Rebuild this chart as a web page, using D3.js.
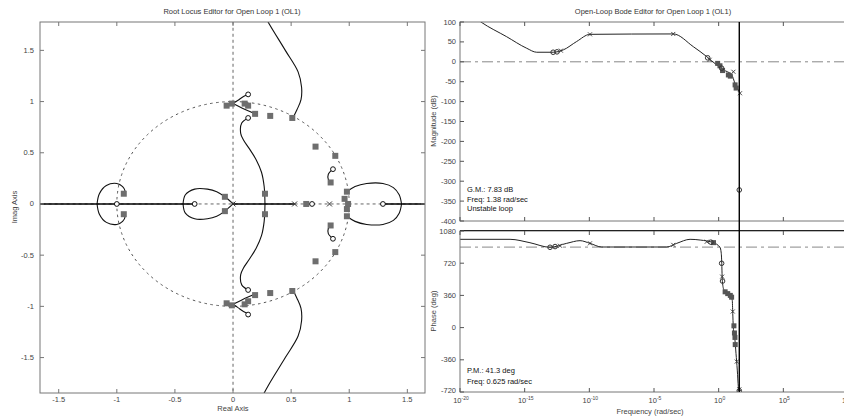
<!DOCTYPE html>
<html><head><meta charset="utf-8">
<script src="https://cdn.jsdelivr.net/npm/d3@7"></script>
<style>
body{margin:0;background:#fff}
svg{display:block}
text{font-family:"Liberation Sans",Arial,Helvetica,sans-serif}
</style>
</head><body>
<svg id="c" width="844" height="419"></svg>
<script>
// ---------------- DATA ----------------
// Root locus (upper-half branches; lower half drawn as conjugates)
const rlXTicks = [-1.5, -1, -0.5, 0, 0.5, 1, 1.5];
const rlYTicks = [1.5, 1, 0.5, 0, -0.5, -1, -1.5];
const rlBranchA = [[0.22,1.95],[0.30,1.78],[0.45,1.50],[0.56,1.29],[0.59,1.14],[0.585,1.02],[0.55,0.92],[0.515,0.84]];
const rlBranchB = [[0.13,0.84],[0.075,0.79],[0.066,0.69],[0.09,0.625],[0.14,0.54],[0.2,0.43],[0.245,0.31],[0.268,0.17],[0.275,0]];
const rlBranchC1 = [[0.13,1.07],[0.09,1.05],[0.04,1.01],[0.0,0.98]];
const rlBranchC2 = [[0.0,0.98],[0.08,0.935],[0.19,0.88]];
const rlBranchD = [[-1.17,0],[-1.15,0.1],[-1.09,0.18],[-1.0,0.2],[-0.95,0.17],[-0.93,0.13],[-0.94,0.1]];
const rlBranchE = [[-0.43,0],[-0.41,0.09],[-0.33,0.145],[-0.22,0.145],[-0.14,0.12],[-0.07,0.07],[0,0]];
const rlBranchF = [[0.98,0.12],[1.05,0.17],[1.15,0.2],[1.29,0.2],[1.38,0.16],[1.43,0.09],[1.45,0]];
const rlBranchG = [[0.86,0.34],[0.82,0.29],[0.82,0.24],[0.84,0.21]];
const rlRealSegments = [[-1.8,-0.33],[0,0.53],[1.29,1.8]];
const rlZeros = [[-1,0],[-0.33,0],[0.68,0],[1.29,0],[0.13,0.84],[0.13,-0.84],[0.13,1.07],[0.13,-1.08],[0.86,0.34],[0.86,-0.34]];
const rlPoles = [[0,0],[0.53,0],[0.83,0]];
const rlClosed = [[-0.94,0.1],[-0.94,-0.1],[-0.07,0.07],[-0.07,-0.07],[0.275,0.1],[0.275,-0.1],
  [0.51,0.84],[0.51,-0.85],[0.32,0.86],[0.32,-0.87],[0.19,0.88],[0.19,-0.89],[0.13,0.96],[0.13,-0.95],
  [0.1,0.98],[0.1,-0.98],[-0.01,0.98],[-0.01,-0.99],[-0.055,0.96],[-0.055,-0.97],
  [0.71,0.56],[0.71,-0.56],[0.88,0.47],[0.88,-0.47],[0.84,0.21],[0.84,-0.21],
  [0.98,0.12],[0.98,-0.12],[0.96,0.05],[0.98,-0.05],[0.63,0],[0.99,0]];

// Bode magnitude
const freqTickExp = [-20, -15, -10, -5, 0, 5, 10];
const magTicks = [100, 50, 0, -50, -100, -150, -200, -250, -300, -350, -400];
const magLogW = [-19.2,-18.38,-16.39,-14.84,-14.07,-12.79,-12.01,-10.98,-9.95,-3.51,-1.96,-0.92,-0.15,0.36,1.01,1.26,1.59];
const magDB   = [120,100,63,34,24,24,30,51,69,70,38,13,-8,-20,-33,-54,-75];
const magCircles = [[-12.8,24],[-12.5,25],[-0.85,10],[0.23,-16],[1.594,-322]];
const magCrosses = [[-12.2,28],[-9.95,69],[-3.51,70],[-0.7,5],[1.14,-25],[1.65,-79]];
const magSquares = [[-0.08,-4],[0.1,-10],[0.3,-22],[0.75,-33],[0.9,-36],[1.27,-58],[1.35,-66]];

// Bode phase
const phaseTicks = [1080, 720, 360, 0, -360, -720];
const phaseLogW = [-20,-16.13,-14.59,-13.04,-11.75,-10.72,-9.95,-9.04,-4.02,-3.24,-2.21,-1.43,-0.41,0.10,0.20,0.24,0.27,0.29,0.41,0.88,1.05,1.09,1.13,1.26,1.34,1.44,1.52,1.59];
const phaseDeg  = [987,987,949,898,942,972,942,901,901,942,987,979,949,898,831,719,569,513,420,364,308,159,10,-139,-288,-475,-661,-717];
const phaseCircles = [[-13.04,898],[-12.65,906],[-0.6,955],[0.23,719],[0.3,520],[1.594,-706]];
const phaseCrosses = [[-12.27,915],[-9.95,942],[-3.51,925],[-0.92,960],[0.27,570],[1.09,180],[1.4,-380],[1.594,-690]];
const phaseSquares = [[-0.4,950],[0.5,400],[0.7,380],[0.9,360],[1.0,340],[1.18,20],[1.22,-60],[1.26,-110],[1.28,-190]];

const nyquistLogW = 1.594;
const magRefDB = 0;
const phaseRefDeg = 900;

// ---------------- DRAW ----------------
const svg = d3.select("#c");
const TICK = 4;

function crossPath(s){return `M${-s},${-s}L${s},${s}M${-s},${s}L${s},${-s}`;}

// ===== Root locus =====
const rx = d3.scaleLinear().domain([-1.661, 1.652]).range([40, 425]);
const ry = d3.scaleLinear().domain([-1.846, 1.777]).range([393, 22]);
svg.append("clipPath").attr("id","clipRL").append("rect")
  .attr("x",40).attr("y",22).attr("width",385).attr("height",371);
const rl = svg.append("g");
const rlPlot = rl.append("g").attr("clip-path","url(#clipRL)");

rlPlot.append("line").attr("x1",rx(-2)).attr("x2",rx(2)).attr("y1",ry(0)).attr("y2",ry(0))
  .attr("stroke","#666").attr("stroke-dasharray","3,3");
rlPlot.append("line").attr("x1",rx(0)).attr("x2",rx(0)).attr("y1",ry(-2)).attr("y2",ry(2))
  .attr("stroke","#666").attr("stroke-dasharray","3,3");
rlPlot.append("ellipse").attr("cx",rx(0)).attr("cy",ry(0))
  .attr("rx",rx(1)-rx(0)).attr("ry",ry(0)-ry(1))
  .attr("fill","none").attr("stroke","#555").attr("stroke-dasharray","2.5,3.5");

const rlLine = d3.line().x(d=>rx(d[0])).y(d=>ry(d[1])).curve(d3.curveCatmullRom);
[rlBranchA, rlBranchB, rlBranchC1, rlBranchC2, rlBranchD, rlBranchE, rlBranchF, rlBranchG].forEach(b=>{
  rlPlot.append("path").attr("d", rlLine(b)).attr("fill","none").attr("stroke","#111").attr("stroke-width",1.1);
  rlPlot.append("path").attr("d", rlLine(b.map(p=>[p[0],-p[1]]))).attr("fill","none").attr("stroke","#111").attr("stroke-width",1.1);
});
rlRealSegments.forEach(s=>{
  rlPlot.append("line").attr("x1",rx(s[0])).attr("x2",rx(s[1])).attr("y1",ry(0)).attr("y2",ry(0))
    .attr("stroke","#000").attr("stroke-width",1.6);
});
rlPlot.selectAll(".sq").data(rlClosed).join("rect")
  .attr("x",d=>rx(d[0])-3).attr("y",d=>ry(d[1])-3).attr("width",6).attr("height",6)
  .attr("fill","#6e6e6e");
rlPlot.selectAll(".z").data(rlZeros).join("circle")
  .attr("cx",d=>rx(d[0])).attr("cy",d=>ry(d[1])).attr("r",2.4)
  .attr("fill","#fff").attr("stroke","#111").attr("stroke-width",1);
rlPlot.selectAll(".p").data(rlPoles).join("path")
  .attr("transform",d=>`translate(${rx(d[0])},${ry(d[1])})`).attr("d",crossPath(2.5))
  .attr("stroke","#333").attr("stroke-width",1);

rl.append("rect").attr("x",40).attr("y",22).attr("width",385).attr("height",371)
  .attr("fill","none").attr("stroke","#777");
rlXTicks.forEach(t=>{
  const x=rx(t);
  rl.append("line").attr("x1",x).attr("x2",x).attr("y1",393).attr("y2",393-TICK).attr("stroke","#777");
  rl.append("line").attr("x1",x).attr("x2",x).attr("y1",22).attr("y2",22+TICK).attr("stroke","#777");
  rl.append("text").attr("x",x).attr("y",402).attr("text-anchor","middle")
    .attr("font-size",7.5).attr("fill","#444").text(t);
});
rlYTicks.forEach(t=>{
  const y=ry(t);
  rl.append("line").attr("x1",40).attr("x2",40+TICK).attr("y1",y).attr("y2",y).attr("stroke","#777");
  rl.append("line").attr("x1",425).attr("x2",425-TICK).attr("y1",y).attr("y2",y).attr("stroke","#777");
  rl.append("text").attr("x",34).attr("y",y+2.5).attr("text-anchor","end")
    .attr("font-size",7.5).attr("fill","#444").text(t);
});
rl.append("text").attr("x",232).attr("y",14).attr("text-anchor","middle")
  .attr("font-size",7.5).attr("fill","#333").text("Root Locus Editor for Open Loop 1 (OL1)");
rl.append("text").attr("x",233).attr("y",411).attr("text-anchor","middle")
  .attr("font-size",7.5).attr("fill","#444").text("Real Axis");
rl.append("text").attr("transform","translate(17,207) rotate(-90)").attr("text-anchor","middle")
  .attr("font-size",7.5).attr("fill","#444").text("Imag Axis");

// ===== Bode =====
const bx = d3.scaleLog().domain([1e-20, 1e10]).range([460, 848]);
const my = d3.scaleLinear().domain([-400, 100]).range([221, 22]);
const py = d3.scaleLinear().domain([-720, 1080]).range([392, 231]);
svg.append("clipPath").attr("id","clipMag").append("rect").attr("x",460).attr("y",22).attr("width",388).attr("height",199);
svg.append("clipPath").attr("id","clipPh").append("rect").attr("x",460).attr("y",231).attr("width",388).attr("height",161);
const bode = svg.append("g");
const magG = bode.append("g").attr("clip-path","url(#clipMag)");
const phG = bode.append("g").attr("clip-path","url(#clipPh)");

magG.append("line").attr("x1",460).attr("x2",848).attr("y1",my(magRefDB)).attr("y2",my(magRefDB))
  .attr("stroke","#888").attr("stroke-width",1).attr("stroke-dasharray","11,4,3,4");
phG.append("line").attr("x1",460).attr("x2",848).attr("y1",py(phaseRefDeg)).attr("y2",py(phaseRefDeg))
  .attr("stroke","#888").attr("stroke-width",1).attr("stroke-dasharray","11,4,3,4");

const magLine = d3.line().x((d,i)=>bx(Math.pow(10,magLogW[i]))).y(d=>my(d)).curve(d3.curveMonotoneX);
magG.append("path").attr("d",magLine(magDB)).attr("fill","none").attr("stroke","#222").attr("stroke-width",1);
const phLine = d3.line().x((d,i)=>bx(Math.pow(10,phaseLogW[i]))).y(d=>py(d)).curve(d3.curveMonotoneX);
phG.append("path").attr("d",phLine(phaseDeg)).attr("fill","none").attr("stroke","#222").attr("stroke-width",1);

function markers(g, yScale, sq, circ, cr){
  g.selectAll(null).data(sq).join("rect")
    .attr("x",d=>bx(Math.pow(10,d[0]))-2.5).attr("y",d=>yScale(d[1])-2.5).attr("width",5).attr("height",5)
    .attr("fill","#555");
  g.selectAll(null).data(circ).join("circle")
    .attr("cx",d=>bx(Math.pow(10,d[0]))).attr("cy",d=>yScale(d[1])).attr("r",2.3)
    .attr("fill","none").attr("stroke","#333").attr("stroke-width",1);
  g.selectAll(null).data(cr).join("path")
    .attr("transform",d=>`translate(${bx(Math.pow(10,d[0]))},${yScale(d[1])})`).attr("d",crossPath(2))
    .attr("stroke","#333").attr("stroke-width",0.9);
}
markers(magG, my, magSquares, magCircles, magCrosses);
markers(phG, py, phaseSquares, phaseCircles, phaseCrosses);

bode.append("rect").attr("x",460).attr("y",22).attr("width",388).attr("height",199).attr("fill","none").attr("stroke","#777");
bode.append("rect").attr("x",460).attr("y",231).attr("width",388).attr("height",161).attr("fill","none").attr("stroke","#777");
bode.append("line").attr("x1",460).attr("x2",848).attr("y1",230.5).attr("y2",230.5).attr("stroke","#222");

bode.append("line").attr("x1",bx(Math.pow(10,nyquistLogW))).attr("x2",bx(Math.pow(10,nyquistLogW)))
  .attr("y1",22).attr("y2",392).attr("stroke","#000").attr("stroke-width",1.4);

freqTickExp.forEach(e=>{
  const x=bx(Math.pow(10,e));
  [[22,1],[221,-1],[231,1],[392,-1]].forEach(([y,dir])=>{
    bode.append("line").attr("x1",x).attr("x2",x).attr("y1",y).attr("y2",y+dir*TICK).attr("stroke","#555");
  });
  const t = bode.append("text").attr("x",x+1).attr("y",403).attr("text-anchor","middle")
    .attr("font-size",7.5).attr("fill","#444");
  t.append("tspan").text("10");
  t.append("tspan").attr("dy",-3.5).attr("font-size",5).text(e);
});
magTicks.forEach(v=>{
  const y=my(v);
  bode.append("line").attr("x1",460).attr("x2",460+TICK).attr("y1",y).attr("y2",y).attr("stroke","#555");
  bode.append("line").attr("x1",848).attr("x2",848-TICK).attr("y1",y).attr("y2",y).attr("stroke","#555");
  bode.append("text").attr("x",456).attr("y",y+2.5).attr("text-anchor","end")
    .attr("font-size",7.5).attr("fill","#444").text(v);
});
phaseTicks.forEach(v=>{
  const y=py(v);
  bode.append("line").attr("x1",460).attr("x2",460+TICK).attr("y1",y).attr("y2",y).attr("stroke","#555");
  bode.append("line").attr("x1",848).attr("x2",848-TICK).attr("y1",y).attr("y2",y).attr("stroke","#555");
  bode.append("text").attr("x",456).attr("y",v===-720 ? y+0.5 : y+2.5).attr("text-anchor","end")
    .attr("font-size",7.5).attr("fill","#444").text(v);
});

bode.append("text").attr("x",653).attr("y",14).attr("text-anchor","middle")
  .attr("font-size",7.5).attr("fill","#333").text("Open-Loop Bode Editor for Open Loop 1 (OL1)");
bode.append("text").attr("x",650).attr("y",414).attr("text-anchor","middle")
  .attr("font-size",7.5).attr("fill","#444").text("Frequency (rad/sec)");
bode.append("text").attr("transform","translate(436,121) rotate(-90)").attr("text-anchor","middle")
  .attr("font-size",7.5).attr("fill","#444").text("Magnitude (dB)");
bode.append("text").attr("transform","translate(436,311) rotate(-90)").attr("text-anchor","middle")
  .attr("font-size",7.5).attr("fill","#444").text("Phase (deg)");

[["G.M.: 7.83 dB",192],["Freq: 1.38 rad/sec",201.5],["Unstable loop",211]].forEach(([s,y])=>{
  bode.append("text").attr("x",467).attr("y",y).attr("font-size",7.5).attr("fill","#111").text(s);
});
[["P.M.: 41.3 deg",373],["Freq: 0.625 rad/sec",383.5]].forEach(([s,y])=>{
  bode.append("text").attr("x",467).attr("y",y).attr("font-size",7.5).attr("fill","#111").text(s);
});
</script>
</body></html>
